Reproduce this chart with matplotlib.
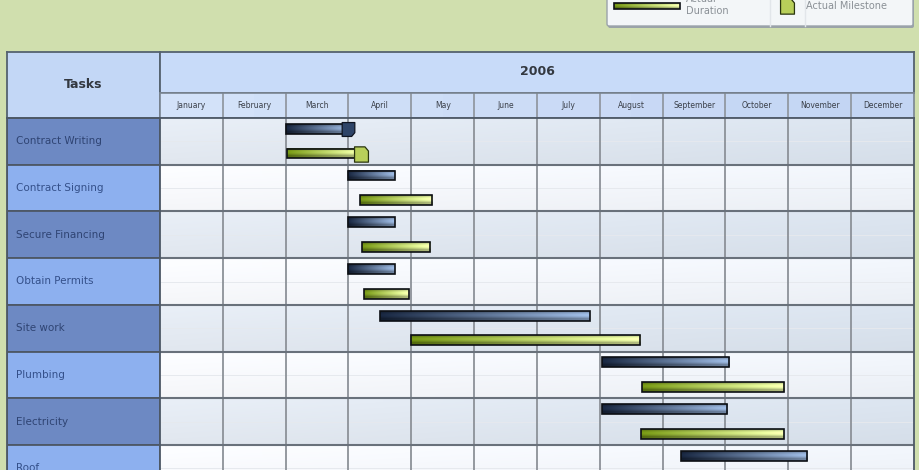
"""Gantt chart: planned vs actual durations for a 2006 construction project."""

import matplotlib

matplotlib.use("Agg")
import matplotlib.pyplot as plt  # noqa: E402
import numpy as np  # noqa: E402
from matplotlib.colors import to_rgb  # noqa: E402
from matplotlib.patches import FancyBboxPatch, Rectangle  # noqa: E402
from matplotlib.path import Path  # noqa: E402

YEAR = "2006"
MONTHS = ["January", "February", "March", "April", "May", "June", "July",
          "August", "September", "October", "November", "December"]
TASKS = ["Contract Writing", "Contract Signing", "Secure Financing",
         "Obtain Permits", "Site work", "Plumbing", "Electricity", "Roof"]

# month units, 0 = 1 January
PLANNED_START = [2.0, 3.0, 3.0, 3.0, 3.5, 7.03, 7.03, 8.29]
PLANNED_END = [3.0, 3.74, 3.74, 3.74, 6.84, 9.06, 9.02, 10.30]
ACTUAL_START = [2.02, 3.18, 3.21, 3.25, 3.99, 7.67, 7.66, None]
ACTUAL_END = [3.2, 4.33, 4.30, 3.96, 7.64, 9.93, 9.93, None]
PLANNED_MILESTONE = [3.0, None, None, None, None, None, None, None]
ACTUAL_MILESTONE = [3.2, None, None, None, None, None, None, None]

W, H = 920, 470
BG = "#d0dfae"
PLANNED_COLS = ("#16233a", "#8ea8cc")
ACTUAL_COLS = ("#6a8812", "#dfeca0")
DARK_ROW = "#6d89c3"
LIGHT_ROW = "#8db0ef"
TASK_TEXT = "#34508a"


def px(x0, y0, x1, y1):
    """Pixel box (top-left origin) -> figure fraction rect."""
    return [x0 / W, (H - y1) / H, (x1 - x0) / W, (y1 - y0) / H]


def gradient_bar(ax, x0, x1, yc, h, cols, z=5):
    c0, c1 = np.array(to_rgb(cols[0])), np.array(to_rgb(cols[1]))
    t = np.linspace(0, 1, 64)[None, :, None]
    v = np.linspace(0, 1, 10)[:, None, None]
    base = c0 * (1 - t) + c1 * t
    shade = 0.8 + 0.35 * np.sin(np.pi * np.clip(v * 1.3, 0, 1))
    img = np.clip(base * shade, 0, 1)
    ax.imshow(img, extent=[x0, x1, yc + h / 2, yc - h / 2], aspect="auto",
              interpolation="bilinear", zorder=z)
    ax.add_patch(Rectangle((x0, yc - h / 2), x1 - x0, h, fill=False,
                           ec="#0c0f14", lw=1.2, zorder=z + 1))


def shield(flip=False):
    verts = [(-0.5, -0.55), (0.5, -0.55), (0.5, 0.25), (0.25, 0.55),
             (-0.5, 0.55), (-0.5, -0.55)]
    if flip:
        verts = [(x, -y) for x, y in verts]
    return Path(verts, closed=True)


fig = plt.figure(figsize=(W / 100, H / 100), dpi=100)
fig.patch.set_facecolor(BG)

# ---- header: "Tasks" cell
ax_t = fig.add_axes(px(7, 52, 160, 118))
ax_t.set_facecolor("#c3d7f6")
ax_t.set_xticks([])
ax_t.set_yticks([])
ax_t.text(0.5, 0.5, "Tasks", ha="center", va="center", fontsize=9,
          fontweight="bold", color="#333840", transform=ax_t.transAxes)
for s in ax_t.spines.values():
    s.set_color("#55626f")
    s.set_linewidth(1.3)

# ---- header: year row
ax_y = fig.add_axes(px(160, 52, 914, 93))
ax_y.set_facecolor("#c8dbf9")
ax_y.set_xticks([])
ax_y.set_yticks([])
ax_y.text(0.5, 0.52, YEAR, ha="center", va="center", fontsize=9,
          fontweight="bold", color="#333840", transform=ax_y.transAxes)
for s in ax_y.spines.values():
    s.set_color("#55626f")
    s.set_linewidth(1.3)

# ---- header: month row
ax_m = fig.add_axes(px(160, 93, 914, 118))
ax_m.set_xlim(0, 12)
ax_m.set_ylim(1, 0)
ax_m.imshow(np.linspace(0.0, 1.0, 8)[:, None] * np.array([[[-0.06, -0.05, -0.02]]])
            + np.array(to_rgb("#d3e2f9")), extent=[0, 12, 1, 0], aspect="auto")
for i, m in enumerate(MONTHS):
    ax_m.text(i + 0.5, 0.5, m, ha="center", va="center", fontsize=5.5,
              color="#3a3f48")
for i in range(1, 12):
    ax_m.axvline(i, color="#8d939b", lw=1.2)
ax_m.set_xticks([])
ax_m.set_yticks([])
for s in ax_m.spines.values():
    s.set_color("#7a8591")
    s.set_linewidth(1.2)

# ---- task name column
row_h = (445 - 118) / 7
ax_n = fig.add_axes(px(7, 118, 160, 118 + 8 * row_h))
ax_n.set_xlim(0, 1)
ax_n.set_ylim(len(TASKS), 0)
for i, t in enumerate(TASKS):
    ax_n.add_patch(Rectangle((0, i), 1, 1, fc=DARK_ROW if i % 2 == 0 else LIGHT_ROW,
                             ec="#4d5866", lw=1.3))
    ax_n.text(0.06, i + 0.5, t, ha="left", va="center", fontsize=7.5,
              color=TASK_TEXT if i % 2 else "#2f4473")
ax_n.set_xticks([])
ax_n.set_yticks([])
for s in ax_n.spines.values():
    s.set_color("#4d5866")
    s.set_linewidth(1.3)

# ---- gantt grid
ax = fig.add_axes(px(160, 118, 914, 118 + 8 * row_h))
ax.set_xlim(0, 12)
ax.set_ylim(len(TASKS), 0)
for i in range(len(TASKS)):
    if i % 2 == 0:
        c0, c1 = np.array(to_rgb("#e4eaf2")), np.array(to_rgb("#d8e1ec"))
    else:
        c0, c1 = np.array(to_rgb("#f8f9fc")), np.array(to_rgb("#eef2f8"))
    t = np.linspace(0, 1, 48)[None, :, None]
    v = np.linspace(0, 1, 6)[:, None, None]
    img = np.clip((c0 * (1 - t) + c1 * t) * (1.02 - 0.03 * v), 0, 1)
    ax.imshow(img, extent=[0, 12, i + 1, i], aspect="auto", zorder=0,
              interpolation="bilinear")
    ax.axhline(i + 0.5, color="#e6e9ee", lw=0.7, zorder=1)
for i in range(1, 12):
    ax.axvline(i, color="#8c9198", lw=1.3, zorder=2)
for i in range(1, len(TASKS)):
    ax.axhline(i, color="#69717b", lw=1.5, zorder=2)

bar_h = 0.21
for i in range(len(TASKS)):
    gradient_bar(ax, PLANNED_START[i], PLANNED_END[i], i + 0.23, bar_h, PLANNED_COLS)
    if ACTUAL_START[i] is not None:
        gradient_bar(ax, ACTUAL_START[i], ACTUAL_END[i], i + 0.76, bar_h, ACTUAL_COLS)
    if PLANNED_MILESTONE[i] is not None:
        ax.plot(PLANNED_MILESTONE[i], i + 0.23, marker=shield(flip=True), ms=10,
                mfc="#2e4468", mec="#0f1522", mew=0.9, zorder=8)
    if ACTUAL_MILESTONE[i] is not None:
        ax.plot(ACTUAL_MILESTONE[i], i + 0.76, marker=shield(), ms=11,
                mfc="#b8cf5a", mec="#2a3510", mew=0.9, zorder=8)
ax.set_xticks([])
ax.set_yticks([])
for s in ax.spines.values():
    s.set_color("#4d5866")
    s.set_linewidth(1.3)

# ---- legend (top part is cut off in the picture)
ax_l = fig.add_axes(px(604, -24, 918, 30))
ax_l.set_xlim(604, 918)
ax_l.set_ylim(30, -24)
ax_l.axis("off")
ax_l.add_patch(FancyBboxPatch((608, -20), 306, 48, boxstyle="round,pad=0,rounding_size=2",
                              fc="#9aa3a8", ec="none"))
ax_l.add_patch(FancyBboxPatch((607, -22), 306, 48, boxstyle="round,pad=0,rounding_size=2",
                              fc="#f3f6f8", ec="#9aa2aa", lw=1.0))
ax_l.plot([770, 770], [-22, 26], color="#e2e6ea", lw=1)
ax_l.plot([805, 805], [-22, 26], color="#e2e6ea", lw=1)
gradient_bar(ax_l, 614, 680, 6, 6, ACTUAL_COLS)
ax_l.text(686, 5, "Actual\nDuration", ha="left", va="center", fontsize=7,
          color="#8a9096", linespacing=1.2)
ax_l.plot(787, 6, marker=shield(), ms=11, mfc="#b8cf5a", mec="#2a3510", mew=0.9)
ax_l.text(806, 6, "Actual Milestone", ha="left", va="center", fontsize=7,
          color="#8a9096")

fig.savefig("out.png", dpi=100, facecolor=BG)
